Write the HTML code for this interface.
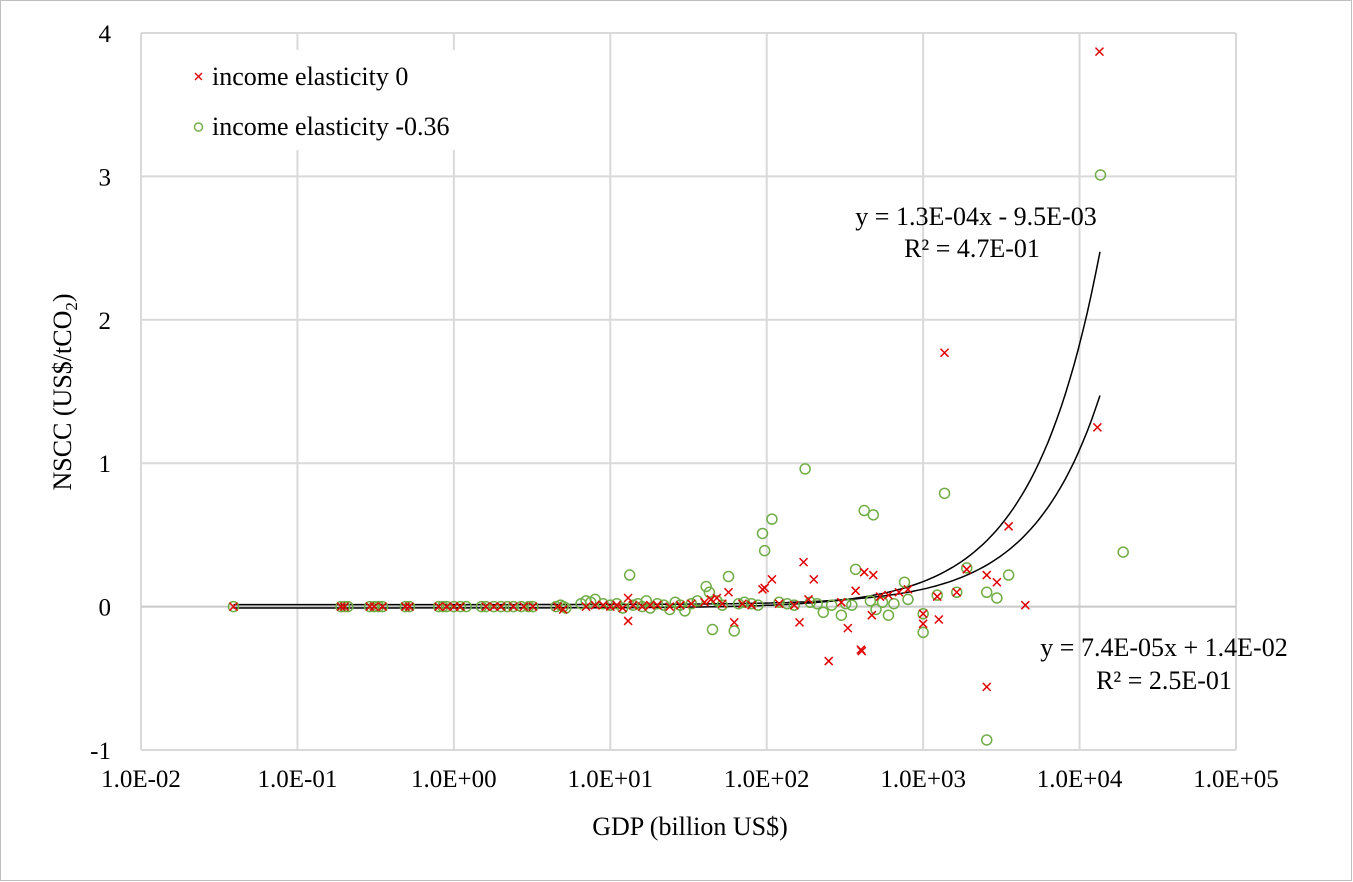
<!DOCTYPE html>
<html><head><meta charset="utf-8">
<style>
html,body{margin:0;padding:0;background:#fff;}
svg{display:block;font-family:"Liberation Serif",serif;}
</style></head>
<body>
<svg id="chart" width="1353" height="882" viewBox="0 0 1353 882">
<rect x="0.5" y="0.5" width="1351" height="880" fill="#fff" stroke="#bfbfbf"/>
<g id="grid"></g>
<g id="axes"></g>
<g id="trends"></g>
<g id="pts"></g>
<g>
<rect x="180" y="50" width="300" height="100" fill="#fff"/>
<g>
<path d="M195,73 l7,7 M202,73 l-7,7" stroke="#e00000" stroke-width="1.4"/>
<text x="212" y="85" font-size="26">income elasticity 0</text></g>
<g>
<circle cx="198.5" cy="127" r="4" fill="none" stroke="#70ad47" stroke-width="1.4"/>
<text x="212" y="135" font-size="26">income elasticity -0.36</text></g>
</g>
<g font-size="26" text-anchor="middle">
<text x="976" y="225">y = 1.3E-04x - 9.5E-03</text>
<text x="972" y="257">R² = 4.7E-01</text></g>
<g font-size="26" text-anchor="middle">
<text x="1164" y="656">y = 7.4E-05x + 1.4E-02</text>
<text x="1164" y="689">R² = 2.5E-01</text></g>
<text x="690" y="835" font-size="26" text-anchor="middle">GDP (billion US$)</text>
<text transform="translate(71,392) rotate(-90)" font-size="26" text-anchor="middle">NSCC (US$/tCO<tspan font-size="17" dy="6">2</tspan><tspan dy="-6">)</tspan></text>
</svg>
<script>
const xTicks=[-2,-1,0,1,2,3,4,5];
const xTickLabels=["1.0E-02","1.0E-01","1.0E+00","1.0E+01","1.0E+02","1.0E+03","1.0E+04","1.0E+05"];
const yTicks=[-1,0,1,2,3,4];
// series: income elasticity 0 (red x)
const redGdp=[0.039,0.19,0.2,0.29,0.31,0.35,0.49,0.52,0.8,0.9,1.0,1.1,1.6,1.8,2.0,2.4,2.8,3.2,4.6,5.0,7,8,9,10,11,12,13,13,14,16,18,20,24,28,33,40,44,48,52,57,62,70,80,94,97,108,120,150,162,172,185,200,249,300,330,370,400,405,420,470,480,530,600,700,800,1000,1000,1230,1260,1370,1640,1900,2550,2550,2960,3520,4500,13000,13400];
const redVal=[0,0,0,0,0,0,0,0,0,0,0,0,0,0,0,0,0,0,0,-0.02,0,0.01,0.01,0,0.01,-0.01,0.06,-0.1,0.01,0,0.01,0.01,0,0.01,0.02,0.03,0.05,0.06,0.02,0.1,-0.11,0.02,0.01,0.12,0.13,0.19,0.02,0.01,-0.11,0.31,0.05,0.19,-0.38,0.03,-0.15,0.11,-0.3,-0.31,0.24,-0.06,0.22,0.07,0.08,0.1,0.12,-0.05,-0.12,0.07,-0.09,1.77,0.1,0.26,0.22,-0.56,0.17,0.56,0.01,1.25,3.87];
// series: income elasticity -0.36 (green o)
const grnGdp=[0.039,0.19,0.2,0.21,0.29,0.31,0.33,0.35,0.49,0.52,0.8,0.85,0.9,1.0,1.1,1.2,1.5,1.6,1.8,2.0,2.2,2.4,2.7,3.0,3.2,4.5,4.8,5.0,5.2,6.5,7,7.5,8,9,10,11,12,13.3,14,15,16,17,18,20,22,24,26,28,30,33,36,41,43,45,48,52,57,62,66,72,80,88,94,97,108,120,135,150,176,190,210,230,260,300,320,350,370,420,460,480,500,550,600,650,760,800,1000,1000,1230,1370,1640,1900,2550,2550,2960,3520,13600,19000];
const grnVal=[0,0,0,0,0,0,0,0,0,0,0,0,0,0,0,0,0,0,0,0,0,0,0,0,0,0,0.01,0,-0.01,0.02,0.04,0.03,0.05,0.02,0.01,0.02,-0.01,0.22,0.01,0.02,0,0.04,-0.01,0.02,0.01,-0.02,0.03,0.01,-0.03,0.02,0.04,0.14,0.1,-0.16,0.04,0.01,0.21,-0.17,0.02,0.03,0.02,0.01,0.51,0.39,0.61,0.03,0.02,0.01,0.96,0.03,0.02,-0.04,0.01,-0.06,0.02,0.01,0.26,0.67,0.04,0.64,-0.02,0.03,-0.06,0.02,0.17,0.05,-0.05,-0.18,0.08,0.79,0.1,0.27,0.1,-0.93,0.06,0.22,3.01,0.38];
// trendline (linear in x) coefficients as drawn
const trendSlope=[1.84e-4,1.08e-4];
const trendIntercept=[-0.0095,0.014];
const trendRange=[0.039,13500];

const NS='http://www.w3.org/2000/svg';
const L=141,R=1236,T=33,B=750;
const xs=v=>L+(Math.log10(v)+2)/7*(R-L);
const xl=l=>L+(l+2)/7*(R-L);
const ys=v=>B-(v+1)/5*(B-T);
function mk(tag,attrs,parent){const e=document.createElementNS(NS,tag);for(const k in attrs)e.setAttribute(k,attrs[k]);parent.appendChild(e);return e;}
const grid=document.getElementById('grid'),axes=document.getElementById('axes'),tr=document.getElementById('trends'),pts=document.getElementById('pts');
xTicks.forEach((t,i)=>{
 const g=mk('line',{x1:xl(t),x2:xl(t),y1:T,y2:B,stroke:'#d9d9d9','stroke-width':2},grid);
 
 
 const tx=mk('text',{x:xl(t),y:787,'font-size':25,'text-anchor':'middle'},axes);
 tx.textContent=xTickLabels[i];
 
 
});
yTicks.forEach(t=>{
 const g=mk('line',{x1:L,x2:R,y1:ys(t),y2:ys(t),stroke:t===0?'#c8c8c8':'#d9d9d9','stroke-width':2},grid);
 
 
 const tx=mk('text',{x:111,y:ys(t)+9,'font-size':25,'text-anchor':'end'},axes);
 tx.textContent=String(t);
 
 
});
grnGdp.forEach((g,i)=>{
 const c=mk('circle',{cx:xs(g),cy:ys(grnVal[i]),r:5,fill:'none',stroke:'#70ad47','stroke-width':1.5},pts);
 
 
});
redGdp.forEach((g,i)=>{
 const x=xs(g),y=ys(redVal[i]);
 const p=mk('path',{d:`M${x-4},${y-4}L${x+4},${y+4}M${x+4},${y-4}L${x-4},${y+4}`,stroke:'#e00000','stroke-width':1.5},pts);
 
 
});
trendSlope.forEach((a,k)=>{
 let d='';const n=200;
 for(let i=0;i<=n;i++){const lg=Math.log10(trendRange[0])+(Math.log10(trendRange[1])-Math.log10(trendRange[0]))*i/n;const x=Math.pow(10,lg);d+=(i?'L':'M')+xs(x).toFixed(1)+','+ys(a*x+trendIntercept[k]).toFixed(1);}
 const p=mk('path',{d:d,fill:'none',stroke:'#000','stroke-width':1.5},tr);
 
 
});
</script>
</body></html>
